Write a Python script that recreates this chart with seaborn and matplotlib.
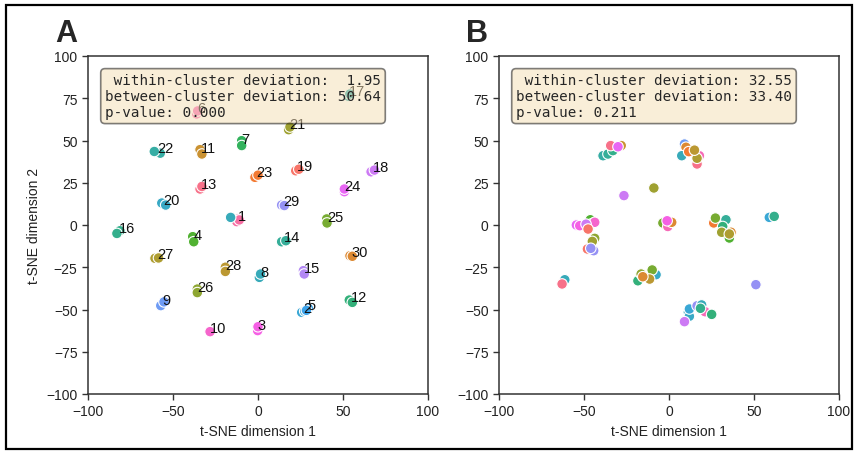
import numpy as np
import pandas as pd
import matplotlib
matplotlib.use("Agg")
import matplotlib.pyplot as plt
from matplotlib.patches import Rectangle
import seaborn as sns

# ---------------- data ----------------
# order of classes along the husl colour wheel
class_order = [13, 19, 23, 30, 11, 28, 27, 21, 26, 25, 4, 7, 12, 16, 14, 22,
               17, 8, 20, 2, 5, 9, 29, 15, 18, 24, 3, 10, 6, 1]

# Panel A: well separated clusters (cluster id, class id used for colour)
a_x = [-34.1, -33.0, 22.2, 24.0, -1.8, 0.0, 54.1, 55.5, -34.1, -33.0,
       -19.2, -19.2, -60.6, -58.5, 18.0, 18.8, -35.7, -35.7, 40.4, 40.6,
       -38.4, -37.8, -9.6, -9.6, 53.7, 55.5, -81.2, -83.0, 13.9, 16.4,
       -59.6, -57.5, -61.0, 52.9, 54.0, 0.8, 1.5, -56.6, -54.3, 25.7,
       27.5, 29.6, 28.5, -57.2, -55.3, 13.9, 15.5, 26.7, 27.2, 66.5,
       68.5, 50.8, 50.8, -0.2, 0.0, -28.2, -36.1, -35.5, -11.8, -12.5,
       -11.0, -16.1]
a_y = [21.3, 22.8, 32.1, 33.0, 28.2, 29.5, -18.2, -18.5, 44.6, 42.0,
       -25.0, -27.5, -19.7, -19.5, 56.4, 58.0, -37.9, -40.0, 3.6, 1.2,
       -6.9, -9.9, 49.9, 47.0, -44.4, -45.8, -3.4, -5.0, -9.9, -9.3,
       43.0, 42.5, 43.5, 76.3, 77.5, -31.0, -29.0, 13.0, 11.8, -51.7,
       -51.0, -49.3, -50.5, -47.7, -45.5, 11.8, 11.5, -27.0, -29.0, 31.5,
       32.5, 19.7, 21.3, -62.5, -60.2, -63.1, 65.7, 67.5, 3.5, 2.0,
       3.0, 4.5]
a_cluster = [13, 13, 19, 19, 23, 23, 30, 30, 11, 11,
             28, 28, 27, 27, 21, 21, 26, 26, 25, 25,
             4, 4, 7, 7, 12, 12, 16, 16, 14, 14,
             22, 22, 22, 17, 17, 8, 8, 20, 20, 2,
             2, 5, 5, 9, 9, 29, 29, 15, 15, 18,
             18, 24, 24, 3, 3, 10, 6, 6, 1, 1,
             1, 0]
a_class = [13, 13, 19, 19, 23, 23, 30, 30, 11, 11,
           28, 28, 27, 27, 21, 21, 26, 26, 25, 25,
           4, 4, 7, 7, 12, 12, 16, 16, 14, 14,
           22, 22, 22, 17, 17, 8, 8, 20, 20, 2,
           2, 5, 5, 9, 9, 29, 29, 15, 15, 18,
           18, 24, 24, 3, 3, 10, 6, 6, 1, 1,
           1, 8]

# Panel B: shuffled labels
b_x = [-38.8, -35.9, -33.0, -34.3, -28.1, -30.0,
       9.1, 10.0, 7.5, 11.6, 17.9, 16.5, 16.5, 15.0,
       -26.5, -8.9,
       -54.5, -52.5, -46.3, -45.7, -43.7, -48.8, -47.6, -43.7, -45.1, -48.0, -44.3, -46.0,
       -3.6, -0.7, 1.6, -1.1,
       26.3, 27.3, 33.5, 31.6, 36.5, 35.5, 31.0, 35.5,
       59.0, 61.9,
       -18.3, -16.4, -7.6, -9.9, -11.4, -15.4,
       -61.3, -62.9, 51.1,
       11.4, 12.0, 12.0, 16.5, 19.2, 21.2, 25.1, 18.5, 9.1]
b_y = [41.0, 42.0, 44.0, 47.0, 47.0, 46.3,
       47.9, 46.0, 41.0, 43.4, 41.0, 36.1, 39.5, 44.3,
       17.4, 21.9,
       0.0, -0.4, 3.1, 0.6, 1.6, 0.5, -2.4, -7.9, -9.7, -14.2, -15.2, -13.8,
       1.2, -0.9, 1.6, 2.5,
       1.2, 4.1, 3.1, -0.9, -4.3, -7.7, -4.3, -5.3,
       4.5, 5.1,
       -33.0, -29.0, -29.4, -26.6, -32.0, -30.6,
       -32.4, -34.9, -35.3,
       -51.6, -54.0, -49.7, -47.8, -47.3, -51.3, -52.9, -49.3, -57.2]
b_class = [22, 14, 16, 13, 11, 24,
           9, 30, 8, 23, 6, 13, 27, 28,
           18, 21,
           24, 3, 4, 7, 10, 18, 19, 26, 21, 19, 29, 29,
           25, 6, 30, 3,
           23, 25, 14, 12, 30, 4, 21, 27,
           2, 16,
           12, 26, 20, 25, 28, 30,
           8, 13, 29,
           8, 20, 2, 29, 8, 6, 12, 16, 18]

stats_a = [1.95, 50.64, 0.000]
stats_b = [32.55, 33.40, 0.211]
panel_letters = ["A", "B"]
x_label = "t-SNE dimension 1"
y_label = "t-SNE dimension 2"

# ---------------- plotting ----------------
sns.set_theme(style="ticks")
plt.rcParams["font.family"] = ["Liberation Sans", "DejaVu Sans"]
plt.rcParams["axes.edgecolor"] = "#333333"
plt.rcParams["xtick.color"] = "#333333"
plt.rcParams["ytick.color"] = "#333333"

colors = sns.husl_palette(len(class_order))
palette = {c: colors[i] for i, c in enumerate(class_order)}

df_a = pd.DataFrame({"x": a_x, "y": a_y, "cluster": a_cluster, "cls": a_class})
df_b = pd.DataFrame({"x": b_x, "y": b_y, "cls": b_class})

fig = plt.figure(figsize=(8.56, 4.52), dpi=100)
W, H = 856, 452
ax_a = fig.add_axes([88 / W, 1 - 395 / H, 340 / W, 338 / H])
ax_b = fig.add_axes([499 / W, 1 - 395 / H, 340 / W, 338 / H])

def stats_text(s):
    return (f" within-cluster deviation: {s[0]:5.2f}\n"
            f"between-cluster deviation: {s[1]:5.2f}\n"
            f"p-value: {s[2]:.3f}")

for ax, df, st in [(ax_a, df_a, stats_a), (ax_b, df_b, stats_b)]:
    sns.scatterplot(data=df, x="x", y="y", hue="cls", palette=palette,
                    s=58, edgecolor="white", linewidth=0.8, legend=False,
                    ax=ax, zorder=2)
    ax.set_xlim(-100, 100)
    ax.set_ylim(-100, 100)
    ax.set_xticks([-100, -50, 0, 50, 100])
    ax.set_yticks([-100, -75, -50, -25, 0, 25, 50, 75, 100])
    ax.tick_params(labelsize=10, length=4, width=1, colors="#333333",
                   labelcolor="#222222")
    for sp in ax.spines.values():
        sp.set_linewidth(1.1)
    ax.set_xlabel(x_label, fontsize=10, color="#222222")
    ax.set_ylabel("")
    ax.text(0.05, 0.95, stats_text(st), transform=ax.transAxes,
            fontsize=10.3, family="DejaVu Sans Mono", va="top", ha="left",
            bbox=dict(boxstyle="round", facecolor="wheat", edgecolor="black",
                      linewidth=1.2, alpha=0.5),
            zorder=5)

ax_a.set_ylabel(y_label, fontsize=10, color="#222222")

# cluster labels at cluster centroids
cent = df_a[df_a["cluster"] > 0].groupby("cluster")[["x", "y"]].mean()
for cl, row in cent.iterrows():
    ax_a.text(row["x"], row["y"], str(cl), fontsize=10.5, color="#111111",
              ha="left", va="baseline", zorder=3)

fig.text(55 / W, 1 - 42 / H, panel_letters[0], fontsize=22, fontweight="bold",
         ha="left", va="baseline")
fig.text(466 / W, 1 - 42 / H, panel_letters[1], fontsize=22, fontweight="bold",
         ha="left", va="baseline")

fig.patches.append(Rectangle((6 / W, 2 / H), 846 / W, 444 / H,
                             transform=fig.transFigure, fill=False,
                             edgecolor="black", linewidth=1.6))

fig.savefig("out.png", dpi=100)
